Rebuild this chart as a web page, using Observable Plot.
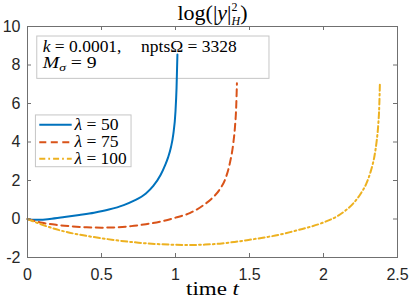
<!DOCTYPE html>
<html><head><meta charset="utf-8">
<script src="https://cdn.jsdelivr.net/npm/d3@7"></script>
<script src="https://cdn.jsdelivr.net/npm/@observablehq/plot@0.6"></script>
<style>body{margin:0;background:#fff}</style>
</head><body><div id="chart"></div>
<script>
// ---- data ----
const t50 = [0, 0.03, 0.08, 0.15, 0.25, 0.35, 0.45, 0.55, 0.65, 0.72, 0.8, 0.85, 0.9, 0.93, 0.95, 0.97, 0.985, 1.0, 1.007, 1.013];
const y50 = [0, -0.04, -0.04, 0.0, 0.1, 0.21, 0.33, 0.49, 0.72, 0.95, 1.33, 1.72, 2.3, 2.8, 3.2, 3.75, 4.4, 5.6, 6.8, 8.55];
const t75 = [0, 0.1, 0.2, 0.3, 0.4, 0.5, 0.6, 0.7, 0.8, 0.9, 1.0, 1.1, 1.2, 1.25, 1.3, 1.34, 1.37, 1.39, 1.402, 1.41, 1.415];
const y75 = [0, -0.2, -0.31, -0.38, -0.43, -0.45, -0.43, -0.37, -0.27, -0.13, 0.07, 0.32, 0.78, 1.1, 1.55, 2.15, 3.0, 3.9, 4.8, 5.8, 7.05];
const t100 = [0, 0.1, 0.25, 0.4, 0.5, 0.625, 0.75, 0.875, 1.0, 1.1, 1.2, 1.3, 1.4, 1.5, 1.6, 1.7, 1.8, 1.9, 2.0, 2.1, 2.15, 2.2, 2.25, 2.29, 2.32, 2.345, 2.36, 2.37, 2.377, 2.381];
const y100 = [0, -0.3, -0.65, -0.88, -1.0, -1.13, -1.23, -1.3, -1.34, -1.35, -1.33, -1.28, -1.19, -1.08, -0.96, -0.82, -0.63, -0.43, -0.18, 0.18, 0.45, 0.8, 1.3, 1.85, 2.5, 3.3, 4.1, 4.9, 5.9, 7.05];
const seriesNames = ["λ = 50", "λ = 75", "λ = 100"];
const xTicks = [0, 0.5, 1, 1.5, 2, 2.5];
const xTickLabels = ["0", "0.5", "1", "1.5", "2", "2.5"];
const yTicks = [-2, 0, 2, 4, 6, 8, 10];
const yTickLabels = ["-2", "0", "2", "4", "6", "8", "10"];
const titleText = "log(|y|²_H)";
const xLabelText = "time t";
const annotLine1 = "k = 0.0001,    nptsΩ = 3328";
const annotLine2 = "M_σ = 9";

// ---- build ----
const toRows = (ts, ys, name) => ts.map((t, i) => ({t, y: ys[i], name}));
const series = [toRows(t50, y50, seriesNames[0]), toRows(t75, y75, seriesNames[1]), toRows(t100, y100, seriesNames[2])];
const colors = ["#0072BD", "#D95319", "#EDB120"];
const dashes = [null, "7,4.5", "6,3,1.8,3"];
const serif = "'Liberation Serif', 'Times New Roman', serif";
const axisCol = "#707070";
const boxCol = "#c6c6c6";

const legendY = [4.89, 3.99, 3.13];
const legendRows = seriesNames.map((n, i) => ({n, y: legendY[i], c: colors[i], d: dashes[i]}));

const marks = [
  // annotation box
  Plot.rect([0], {x1: 0.066, x2: 1.635, y1: 7.28, y2: 9.48, fill: "white", stroke: boxCol, strokeWidth: 1}),
  Plot.text([annotLine1], {text: d => d, x: 0.103, y: 8.94, textAnchor: "start", lineAnchor: "middle", fontSize: 16, fill: "#000"}),
  Plot.text([annotLine2], {text: d => d, x: 0.103, y: 8.13, textAnchor: "start", lineAnchor: "middle", fontSize: 16, fill: "#000"}),
  // legend box
  Plot.rect([0], {x1: 0.057, x2: 0.703, y1: 2.69, y2: 5.38, fill: "white", stroke: boxCol, strokeWidth: 1}),
  ...legendRows.map(r => Plot.ruleY([r.y], {x1: 0.083, x2: 0.302, stroke: r.c, strokeWidth: 2, strokeDasharray: r.d})),
  Plot.text(legendRows, {text: "n", x: 0.318, y: "y", textAnchor: "start", lineAnchor: "middle", fontSize: 16, fill: "#000"}),
  // curves
  ...series.map((s, i) => Plot.line(s, {x: "t", y: "y", stroke: colors[i], strokeWidth: 2, strokeDasharray: dashes[i], curve: "monotone-x"})),
  // frame and inward ticks
  Plot.frame({stroke: axisCol, strokeWidth: 1}),
  Plot.ruleX(xTicks, {y1: -2, y2: -2 + 4 / 19.25, stroke: axisCol}),
  Plot.ruleX(xTicks, {y1: 10 - 4 / 19.25, y2: 10, stroke: axisCol}),
  Plot.ruleY(yTicks, {x1: 0, x2: 4 / 148, stroke: axisCol}),
  Plot.ruleY(yTicks, {x1: 2.5 - 4 / 148, x2: 2.5, stroke: axisCol}),
  // tick labels
  Plot.axisX({ticks: xTicks, anchor: "bottom", tickSize: 0, tickPadding: 11, tickFormat: d => xTickLabels[xTicks.indexOf(d)], label: null, fontSize: 16, fill: "#262626"}),
  Plot.axisY({ticks: yTicks, anchor: "left", tickSize: 0, tickPadding: 7, tickFormat: d => yTickLabels[yTicks.indexOf(d)], label: null, fontSize: 16, fill: "#262626"}),
  // title and x label
  Plot.text([titleText], {text: d => d, frameAnchor: "top", dy: -14, lineAnchor: "middle", fontSize: 22, fill: "#000"}),
  Plot.text([xLabelText], {text: d => d, frameAnchor: "bottom", dy: 31, lineAnchor: "middle", fontSize: 19, fill: "#000"})
];

const chart = Plot.plot({
  width: 410, height: 300,
  marginLeft: 27, marginRight: 13, marginTop: 26, marginBottom: 43,
  x: {domain: [0, 2.5]},
  y: {domain: [-2, 10]},
  style: {fontFamily: "'Liberation Sans', Arial, sans-serif", background: "white", overflow: "visible"},
  marks
});
document.getElementById("chart").appendChild(chart);

// ---- rich text (serif math-style labels, italics, sub/superscripts) ----
const NS = "http://www.w3.org/2000/svg";
const richMap = new Map([
  [titleText, {parts: [{t: "log(|"}, {t: "y", i: 1}, {t: "|"}, {t: "2", s: 12, dy: -8.5}, {t: "H", i: 1, s: 12, dx: -6, dy: 14}, {t: ")", dy: -5.5}]}],
  [xLabelText, {parts: [{t: "time "}, {t: "t", i: 1}], len: 53}],
  [annotLine1, {parts: [{t: "k", i: 1}, {t: " = 0.0001,"}, {t: "npts\u03A9 = 3328", dx: 18}], len: 194}],
  [annotLine2, {parts: [{t: "M", i: 1}, {t: "σ", i: 1, s: 11, dy: 3}, {t: " = 9", dy: -3}], len: 54}],
  [seriesNames[0], {parts: [{t: "λ", i: 1}, {t: " = 50"}], len: 44}],
  [seriesNames[1], {parts: [{t: "λ", i: 1}, {t: " = 75"}], len: 44}],
  [seriesNames[2], {parts: [{t: "λ", i: 1}, {t: " = 100"}], len: 52}]
]);
chart.querySelectorAll("text").forEach(el => {
  const spec = richMap.get(el.textContent);
  if (!spec) return;
  el.textContent = "";
  el.setAttribute("font-family", serif);
  el.style.fontFamily = serif;
  for (const p of spec.parts) {
    const ts = document.createElementNS(NS, "tspan");
    ts.textContent = p.t;
    if (p.i) ts.setAttribute("font-style", "italic");
    if (p.s) ts.setAttribute("font-size", p.s);
    if (p.dx) ts.setAttribute("dx", p.dx);
    if (p.dy) ts.setAttribute("dy", p.dy);
    el.appendChild(ts);
  }
  if (spec.len) {
    el.setAttribute("textLength", spec.len);
    el.setAttribute("lengthAdjust", "spacingAndGlyphs");
  }
});
</script>
</body></html>
